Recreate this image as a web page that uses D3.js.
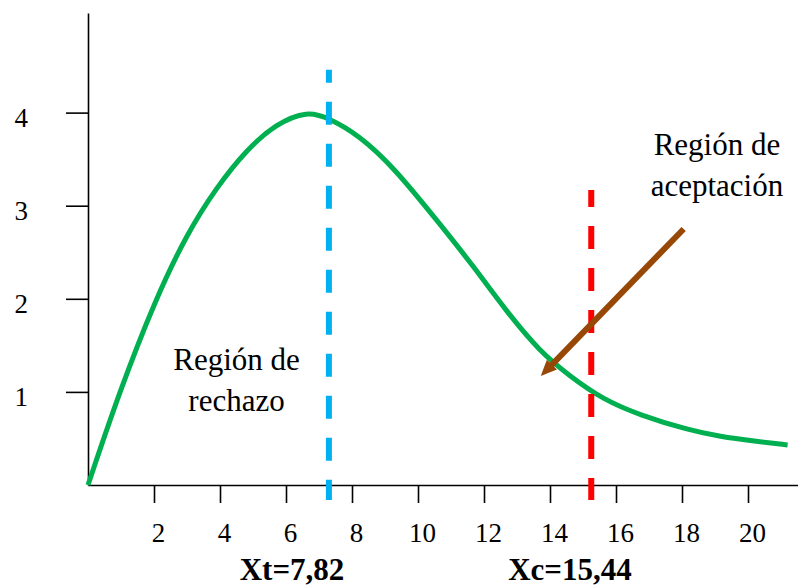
<!DOCTYPE html>
<html>
<head>
<meta charset="utf-8">
<script src="https://cdn.jsdelivr.net/npm/d3@7"></script>
<style>
  body { margin: 0; background: #fff; }
  svg { display: block; }
  text { font-family: "Liberation Serif", "Times New Roman", serif; fill: #000; }
</style>
</head>
<body>
<div id="chart"></div>
<script>
// curve
var curveX = [0, 0.95, 2.05, 3.0, 3.9, 4.8, 5.7, 6.65, 7.3, 8.2, 9.25, 10.67, 11.68, 12.69, 13.7, 14.6, 15.6, 16.73, 18.2, 19.15, 20.2, 21.2];
var curveY = [0, 1.0, 2.0, 2.7, 3.2, 3.6, 3.88, 4.02, 3.94, 3.76, 3.42, 2.80, 2.35, 1.86, 1.43, 1.17, 0.92, 0.75, 0.59, 0.52, 0.47, 0.43];

var xTicks = [2, 4, 6, 8, 10, 12, 14, 16, 18, 20];
var yTicks = [1, 2, 3, 4];

// critical lines: position on the axis and top of the line
var lineX = [7.3, 15.25];
var lineTop = [4.46, 3.17];
var lineColor = ["#00b0f0", "#ff0000"];
var lineLabels = ["Xt=7,82", "Xc=15,44"];

// arrow from the acceptance label to the curve
var arrowFrom = [18.05, 2.75];
var arrowTo = [13.72, 1.17];

var width = 800, height = 587;

var svg = d3.select("#chart").append("svg")
    .attr("width", width)
    .attr("height", height);

var x = d3.scaleLinear().domain([0, 21.5]).range([88, 797.5]);
var y = d3.scaleLinear().domain([0, 5.07]).range([485, 13]);

// axes
var gx = svg.append("g")
    .attr("transform", "translate(0," + y(0) + ")")
    .call(d3.axisBottom(x).tickValues(xTicks).tickFormat(d3.format("d"))
        .tickSize(18).tickSizeOuter(0).tickPadding(20));
gx.selectAll("text").attr("dx", 4);

var gy = svg.append("g")
    .attr("transform", "translate(" + x(0) + ",0)")
    .call(d3.axisLeft(y).tickValues(yTicks).tickFormat(d3.format("d"))
        .tickSize(22).tickSizeOuter(0).tickPadding(38));
gy.selectAll("text").attr("dy", "0.5em");

svg.selectAll(".domain, .tick line")
    .attr("stroke", "#000")
    .attr("stroke-width", 1.6);
svg.selectAll(".tick text")
    .style("font-size", "27px")
    .style("font-family", "'Liberation Serif', serif");

// curve
var pts = curveX.map(function (d, i) { return [d, curveY[i]]; });
var valueline = d3.line()
    .x(function (d) { return x(d[0]); })
    .y(function (d) { return y(d[1]); })
    .curve(d3.curveBasis);

svg.append("path")
    .datum(pts)
    .attr("d", valueline)
    .style("fill", "none")
    .style("stroke", "#00b050")
    .style("stroke-width", 5);

// dashed lines
var offsets = [10, 6];
lineX.forEach(function (v, i) {
    svg.append("line")
        .attr("x1", x(v)).attr("x2", x(v))
        .attr("y1", y(lineTop[i])).attr("y2", y(-0.16))
        .style("stroke", lineColor[i])
        .style("stroke-width", 6)
        .style("stroke-dasharray", "23,19")
        .style("stroke-dashoffset", offsets[i]);
});

// bottom labels
var labelCenters = [292, 570];
lineLabels.forEach(function (t, i) {
    svg.append("text")
        .attr("x", labelCenters[i])
        .attr("y", 580)
        .attr("text-anchor", "middle")
        .style("font-size", "31px")
        .style("font-weight", "bold")
        .text(t);
});

// arrow
var ax1 = x(arrowFrom[0]), ay1 = y(arrowFrom[1]);
var ax2 = x(arrowTo[0]), ay2 = y(arrowTo[1]);
var ang = Math.atan2(ay2 - ay1, ax2 - ax1);
var headLen = 16, headW = 7;
svg.append("line")
    .attr("x1", ax1).attr("y1", ay1)
    .attr("x2", ax2 - Math.cos(ang) * (headLen - 2))
    .attr("y2", ay2 - Math.sin(ang) * (headLen - 2))
    .style("stroke", "#974806")
    .style("stroke-width", 6);
var bx = ax2 - Math.cos(ang) * headLen, by = ay2 - Math.sin(ang) * headLen;
svg.append("path")
    .attr("d", "M" + ax2 + "," + ay2 +
        "L" + (bx + Math.sin(ang) * headW) + "," + (by - Math.cos(ang) * headW) +
        "L" + (bx - Math.sin(ang) * headW) + "," + (by + Math.cos(ang) * headW) + "Z")
    .style("fill", "#974806");

// region labels
function region(lines, cx, cy) {
    var t = svg.append("text")
        .attr("text-anchor", "middle")
        .style("font-size", "31px");
    lines.forEach(function (s, i) {
        t.append("tspan")
            .attr("x", x(cx))
            .attr("y", y(cy) + i * 41)
            .text(s);
    });
}
region(["Región de", "rechazo"], 4.5, 1.23);
region(["Región de", "aceptación"], 19.06, 3.55);
</script>
</body>
</html>
